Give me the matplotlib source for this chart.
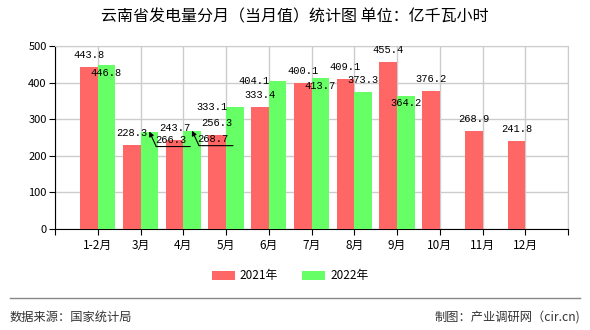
import matplotlib
matplotlib.use("Agg")
import matplotlib.pyplot as plt
from matplotlib.lines import Line2D
from matplotlib.transforms import offset_copy
import numpy as np

plt.rcParams['font.family'] = ['Noto Sans CJK SC', 'DejaVu Sans']

months = ['1-2月', '3月', '4月', '5月', '6月', '7月', '8月', '9月', '10月', '11月', '12月']
v2021 = [443.8, 228.3, 243.7, 256.3, 333.4, 400.1, 409.1, 455.4, 376.2, 268.9, 241.8]
v2022 = [446.8, 266.3, 268.7, 333.1, 404.1, 413.7, 373.3, 364.2]

# label offsets in pixels (dx, dy), as the chart placed them
off2021 = [(0, 12)] * len(v2021)
off2022 = [(0, -8), (22, -8), (21, -8), (-23, 0), (-23, 0), (0, -8), (0, 12), (0, -7)]
leader2022 = [False, True, True, False, False, False, False, False]

red = '#ff6666'
green = '#66ff66'

fig = plt.figure(figsize=(5.9, 3.3), dpi=100)
ax = fig.add_axes([55 / 590, 1 - 229 / 330, 513 / 590, 183 / 330])

x = np.arange(len(months))
w = 0.41
ax.bar(x[:len(v2021)] - w / 2, v2021, w, color=red, label='2021年', zorder=3)
ax.bar(x[:len(v2022)] + w / 2, v2022, w, color=green, label='2022年', zorder=3)

ax.set_xlim(-1, 11)
ax.set_ylim(0, 500)
ax.set_yticks(range(0, 501, 100))
ax.set_xticks(np.arange(-1, 12))
ax.set_xticklabels([''] + months + [''])
ax.tick_params(axis='y', labelsize=8, length=4, color='black', pad=2)
ax.tick_params(axis='x', labelsize=8.5, length=4, color='black', pad=3)
ax.grid(True, color='#cccccc', lw=1, zorder=0)
for s in ['top', 'right']:
    ax.spines[s].set_color('#cccccc')
for s in ['left', 'bottom']:
    ax.spines[s].set_color('black')

lab_font = dict(family='Liberation Mono', fontsize=7.5, color='black')

for i, v in enumerate(v2021):
    dx, dy = off2021[i]
    ax.annotate(f'{v:.1f}', xy=(x[i] - w / 2, v), xytext=(dx, dy), textcoords='offset pixels',
                ha='center', va='center', zorder=5, **lab_font)

for i, v in enumerate(v2022):
    dx, dy = off2022[i]
    xc = x[i] + w / 2
    ax.annotate(f'{v:.1f}', xy=(xc, v), xytext=(dx, dy), textcoords='offset pixels',
                ha='center', va='center', zorder=5, **lab_font)
    if leader2022[i]:
        ax.annotate('', xy=(xc, v), xytext=(7, -15), textcoords='offset pixels',
                    arrowprops=dict(arrowstyle='-|>', color='black', lw=0.8,
                                    shrinkA=0, shrinkB=0, mutation_scale=7), zorder=6)
        tr = offset_copy(ax.transData, fig=fig, x=7, y=-15, units='dots')
        ax.annotate('', xy=(xc, v), xycoords=tr, xytext=(34, 0), textcoords='offset pixels',
                    arrowprops=dict(arrowstyle='-', color='black', lw=0.8,
                                    shrinkA=0, shrinkB=0), zorder=6)

fig.text(295 / 590, 1 - 17 / 330, '云南省发电量分月（当月值）统计图 单位：亿千瓦小时',
         ha='center', va='center', fontsize=11.5, color='black')

fig.legend(loc='center', bbox_to_anchor=(290 / 590, 1 - 276 / 330), ncol=2, frameon=False,
           fontsize=8.5, handlelength=2.0, handleheight=0.9, columnspacing=2.0, handletextpad=0.4)

fig.add_artist(Line2D([10 / 590, 580 / 590], [1 - 298 / 330] * 2, color='#888888', lw=1))
fig.text(10 / 590, 1 - 317 / 330, '数据来源：国家统计局', ha='left', va='center', fontsize=8.8, color='#333333')
fig.text(580 / 590, 1 - 317 / 330, '制图：产业调研网（cir.cn)', ha='right', va='center', fontsize=8.8, color='#333333')

fig.savefig('out.png', dpi=100)
